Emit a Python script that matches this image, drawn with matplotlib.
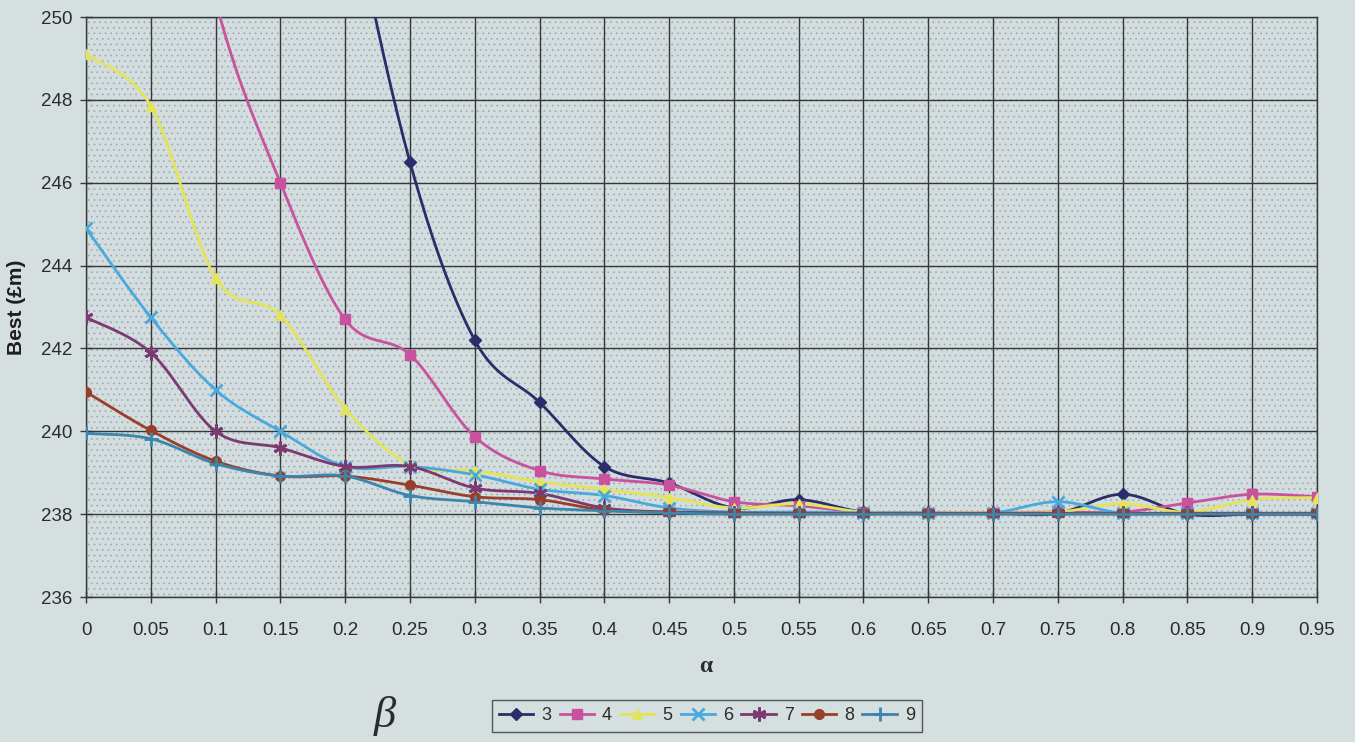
import numpy as np
import matplotlib
matplotlib.use("Agg")
import matplotlib.pyplot as plt
from matplotlib.lines import Line2D
from matplotlib.patches import Rectangle

# ---------------- data ----------------
alpha = [0.0, 0.05, 0.1, 0.15, 0.2, 0.25, 0.3, 0.35, 0.4, 0.45,
         0.5, 0.55, 0.6, 0.65, 0.7, 0.75, 0.8, 0.85, 0.9, 0.95]
x_tick_labels = ["0", "0.05", "0.1", "0.15", "0.2", "0.25", "0.3", "0.35", "0.4", "0.45",
                 "0.5", "0.55", "0.6", "0.65", "0.7", "0.75", "0.8", "0.85", "0.9", "0.95"]
y_ticks = [236, 238, 240, 242, 244, 246, 248, 250]

beta_labels = ["3", "4", "5", "6", "7", "8", "9"]
best_b3 = [290.0, 280.0, 270.0, 262.0, 253.5, 246.5, 242.2, 240.7, 239.15, 238.75,
           238.15, 238.35, 238.05, 238.02, 238.02, 238.02, 238.48, 238.0, 238.0, 238.0]
best_b4 = [265.0, 258.0, 250.4, 246.0, 242.7, 241.85, 239.87, 239.05, 238.85, 238.7,
           238.3, 238.2, 238.05, 238.03, 238.03, 238.05, 238.05, 238.27, 238.48, 238.42]
best_b5 = [249.1, 247.85, 243.7, 242.8, 240.55, 239.2, 239.05, 238.78, 238.6, 238.4,
           238.15, 238.25, 238.05, 238.03, 238.03, 238.05, 238.25, 238.05, 238.35, 238.4]
best_b6 = [244.9, 242.75, 241.0, 240.0, 239.15, 239.15, 238.95, 238.6, 238.45, 238.15,
           238.05, 238.05, 238.03, 238.03, 238.03, 238.3, 238.02, 238.02, 238.02, 238.02]
best_b7 = [242.75, 241.9, 240.0, 239.6, 239.15, 239.15, 238.63, 238.5, 238.15, 238.05,
           238.03, 238.02, 238.02, 238.02, 238.02, 238.02, 238.02, 238.02, 238.02, 238.02]
best_b8 = [240.95, 240.02, 239.28, 238.92, 238.92, 238.7, 238.42, 238.35, 238.1, 238.05,
           238.02, 238.02, 238.02, 238.02, 238.02, 238.02, 238.02, 238.02, 238.02, 238.02]
best_b9 = [239.95, 239.82, 239.22, 238.92, 238.92, 238.45, 238.3, 238.15, 238.08, 238.03,
           238.0, 238.0, 238.0, 238.0, 238.0, 238.0, 238.0, 238.0, 238.0, 238.0]

series = [best_b3, best_b4, best_b5, best_b6, best_b7, best_b8, best_b9]
colors = ["#2a2d6a", "#c8529e", "#e4e458", "#4aa9dc", "#7b3a70", "#983f2c", "#3b86ad"]
markers = ["D", "s", "^", "x", (6, 2, 0), "o", "+"]
msizes = [6.5, 7, 7.5, 8, 10, 7, 10]

BG = "#d5dfe0"


def smooth(xs, ys, n=30):
    """Excel-style smoothed line (Catmull-Rom cubic Bezier)."""
    xs = np.asarray(xs, float)
    ys = np.asarray(ys, float)
    px, py = [], []
    m = len(xs)
    for i in range(m - 1):
        i0 = max(i - 1, 0)
        i3 = min(i + 2, m - 1)
        p0 = np.array([xs[i], ys[i]])
        p3 = np.array([xs[i + 1], ys[i + 1]])
        c1 = p0 + (np.array([xs[i + 1], ys[i + 1]]) - np.array([xs[i0], ys[i0]])) / 6.0
        c2 = p3 - (np.array([xs[i3], ys[i3]]) - np.array([xs[i], ys[i]])) / 6.0
        t = np.linspace(0, 1, n, endpoint=(i == m - 2))
        b = ((1 - t) ** 3)[:, None] * p0 + (3 * (1 - t) ** 2 * t)[:, None] * c1 \
            + (3 * (1 - t) * t ** 2)[:, None] * c2 + (t ** 3)[:, None] * p3
        px.extend(b[:, 0])
        py.extend(b[:, 1])
    return np.array(px), np.array(py)


plt.rcParams["font.family"] = ["Liberation Sans", "DejaVu Sans"]
plt.rcParams["hatch.linewidth"] = 0.5

fig = plt.figure(figsize=(13.55, 7.42), dpi=100, facecolor=BG)
ax = fig.add_axes([86 / 1355, 1 - 597 / 742, (1317 - 86) / 1355, (597 - 17) / 742])
ax.set_facecolor("#d3dcde")

# stippled plot background
ax.add_patch(Rectangle((0, 0), 1, 1, transform=ax.transAxes, facecolor="none",
                       edgecolor="#9fa9ab", hatch="...", linewidth=0, zorder=0))

ax.set_xlim(alpha[0], alpha[-1])
ax.set_ylim(y_ticks[0], y_ticks[-1])
ax.set_xticks(alpha)
ax.set_xticklabels(x_tick_labels)
ax.set_yticks(y_ticks)
ax.grid(True, color="#343838", linewidth=1.0, zorder=1)
ax.set_axisbelow(True)
for sp in ax.spines.values():
    sp.set_color("#343838")
    sp.set_linewidth(1.0)
ax.tick_params(axis="both", direction="inout", length=8, width=1.0, color="#343838",
               labelsize=13.5, labelcolor="#2b2b2b")
ax.tick_params(axis="x", pad=14)
ax.tick_params(axis="y", pad=6)

handles = []
for ys, c, mk, ms, lab in zip(series, colors, markers, msizes, beta_labels):
    sx, sy = smooth(alpha, ys)
    ax.plot(sx, sy, color=c, linewidth=2.0, zorder=3, solid_capstyle="round")
    mew = 2.0 if mk in ("x", "+", (6, 2, 0)) else 1.0
    ax.plot(alpha, ys, linestyle="none", marker=mk, markersize=ms, color=c,
            markeredgecolor=c, markeredgewidth=mew, zorder=4)
    handles.append(Line2D([], [], color=c, linewidth=2.0, marker=mk, markersize=ms,
                          markeredgecolor=c, markeredgewidth=mew))

ax.set_ylabel("Best (£m)", fontsize=15, fontweight="bold", color="#1e1e1e")
ax.yaxis.set_label_coords(-0.0485, 0.5)
fig.text(706 / 1355, 1 - 667 / 742, "α", fontsize=17, fontweight="bold",
         family=["Liberation Serif", "DejaVu Serif"], color="#2b2b2b",
         ha="center", va="center")
fig.text(385 / 1355, 1 - 716 / 742, "β", fontsize=32, fontstyle="italic",
         family=["Liberation Serif", "DejaVu Serif"], color="#2b2b2b",
         ha="center", va="center")

leg = fig.legend(handles, beta_labels, loc="center", ncol=7,
                 bbox_to_anchor=(707 / 1355, 1 - 716 / 742), frameon=True,
                 fontsize=13, handlelength=1.9, handletextpad=0.45, columnspacing=0.45,
                 borderpad=0.4, borderaxespad=0.0, fancybox=False)
leg.get_frame().set_edgecolor("#333333")
leg.get_frame().set_linewidth(1.0)
leg.get_frame().set_facecolor(BG)
for t in leg.get_texts():
    t.set_color("#2b2b2b")

fig.savefig("out.png", dpi=100, facecolor=BG)
